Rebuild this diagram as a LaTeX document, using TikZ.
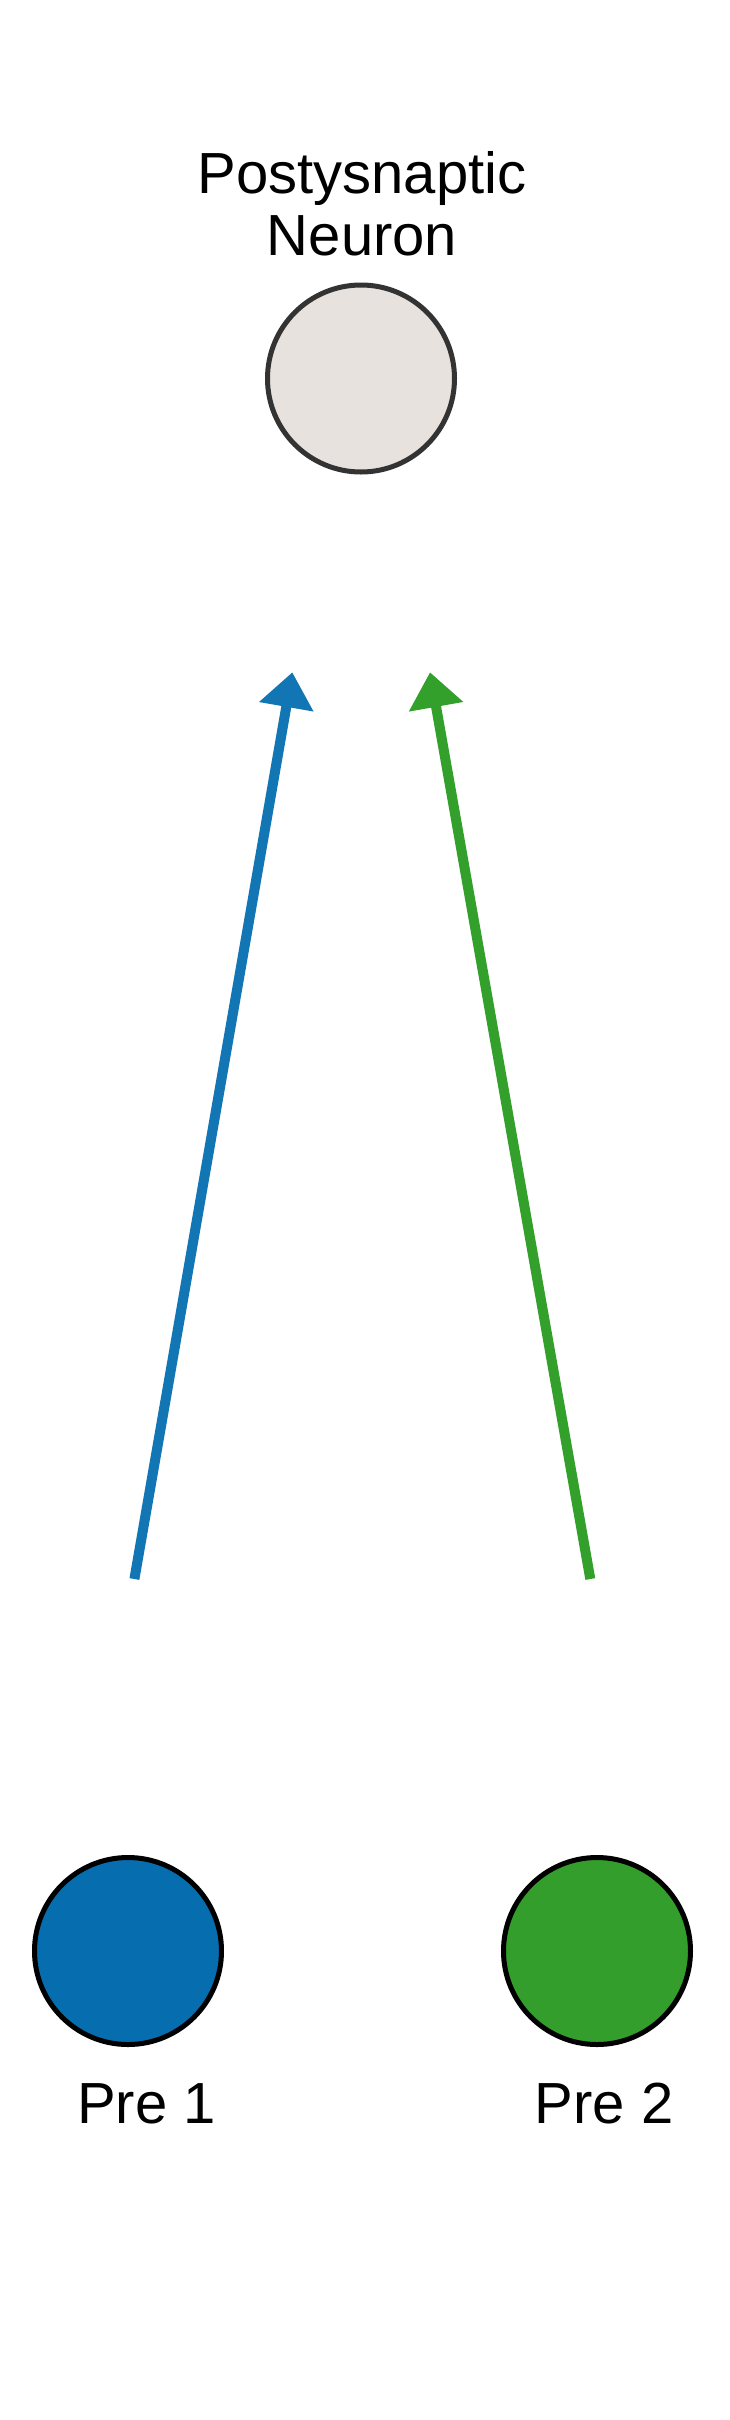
\documentclass[tikz,border=0pt]{standalone}
\usepackage{fontspec}
\setmainfont{Liberation Sans}
\usetikzlibrary{arrows.meta}
\definecolor{postfill}{HTML}{E8E2DE}
\definecolor{postline}{HTML}{333333}
\definecolor{preblue}{HTML}{066EAE}
\definecolor{pregreen}{HTML}{339E2B}
\definecolor{arrblue}{HTML}{1276B4}
\definecolor{arrgreen}{HTML}{33A02C}
\begin{document}
\begin{tikzpicture}[x=1pt,y=-1pt,
  neuron/.style={circle, minimum size=187pt, inner sep=0pt, outer sep=0pt, line width=5pt},
  lbl/.style={anchor=base, inner sep=0pt, font=\fontsize{58}{62}\selectfont},
  syn/.style={line width=10pt, -{Triangle[length=35pt,width=53pt]}}]
\useasboundingbox[fill=white] (0,0) rectangle (729,2420);
\node[neuron, fill=postfill, draw=postline] (post) at (361,378.5) {};
\node[lbl] (posttitle1) at (362,193) {Postysnaptic};
\node[lbl] (posttitle2) at (362,255) {Neuron};
\node[neuron, fill=preblue, draw=black] (pre1) at (128,1951) {};
\node[neuron, fill=pregreen, draw=black] (pre2) at (597,1951) {};
\node[lbl] (pre1lbl) at (146.5,2123) {Pre 1};
\node[lbl] (pre2lbl) at (604,2123) {Pre 2};
\coordinate (s1) at (134.4,1579);
\coordinate (t1) at (292.3,672.3);
\coordinate (s2) at (590.3,1579);
\coordinate (t2) at (430,672.3);
\draw[syn, arrblue] (s1) -- (t1);
\draw[syn, arrgreen] (s2) -- (t2);
\end{tikzpicture}
\end{document}
